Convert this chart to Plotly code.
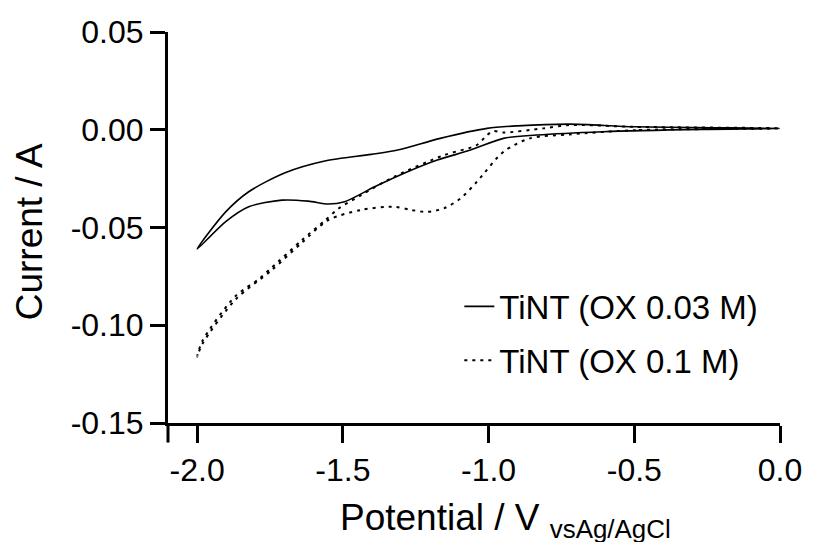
import plotly.graph_objects as go

# ---- data ----
# TiNT (OX 0.03 M): cathodic scan 0 -> -2.0 V, then return scan -2.0 -> 0 V
sol_fwd_x = [0.0, -0.267, -0.608, -0.835, -0.949, -1.062, -1.176, -1.278, -1.391,
             -1.494, -1.55, -1.619, -1.709, -1.823, -1.902, -2.0]
sol_fwd_y = [0.0007, 0.0002, -0.001, -0.0027, -0.0044, -0.0104, -0.0155, -0.0215, -0.0292,
             -0.0368, -0.038, -0.0365, -0.036, -0.0394, -0.047, -0.061]
sol_rev_x = [-2.0, -1.902, -1.823, -1.698, -1.562, -1.403, -1.312, -1.166, -1.005,
             -0.9, -0.723, -0.495, 0.0]
sol_rev_y = [-0.061, -0.042, -0.0317, -0.022, -0.016, -0.0126, -0.0104, -0.0044, 0.0007,
             0.002, 0.0029, 0.0015, 0.0007]

# TiNT (OX 0.1 M)
dot_fwd_x = [0.0, -0.495, -0.723, -0.858, -0.949, -1.04, -1.096, -1.153, -1.21, -1.267,
             -1.323, -1.437, -1.55, -1.641, -1.744, -1.868, -1.982, -2.0]
dot_fwd_y = [0.0007, -0.0002, -0.0024, -0.0044, -0.0113, -0.0266, -0.0351, -0.0402, -0.042, -0.041,
             -0.0394, -0.041, -0.0462, -0.0578, -0.0718, -0.0868, -0.1095, -0.116]
dot_rev_x = [-2.0, -1.982, -1.868, -1.789, -1.744, -1.641, -1.562, -1.516, -1.437, -1.323,
             -1.153, -1.04, -1.005, -0.983, -0.949, -0.812, -0.723, -0.5, 0.0]
dot_rev_y = [-0.116, -0.108, -0.085, -0.0765, -0.0705, -0.0565, -0.0465, -0.0405, -0.0334, -0.024,
             -0.013, -0.0078, -0.0027, -0.0007, -0.0014, 0.0007, 0.0024, 0.0015, 0.0007]

series_names = ["TiNT (OX 0.03 M)", "TiNT (OX 0.1 M)"]

x_tickvals = [-2.0, -1.5, -1.0, -0.5, 0.0]
x_ticktext = ["-2.0", "-1.5", "-1.0", "-0.5", "0.0"]
y_tickvals = [0.05, 0.0, -0.05, -0.10, -0.15]
y_ticktext = ["0.05", "0.00", "-0.05", "-0.10", "-0.15"]

FONT = "Liberation Sans, Arial, Helvetica, sans-serif"

fig = go.Figure()
fig.add_trace(go.Scatter(
    x=sol_fwd_x + sol_rev_x[1:], y=sol_fwd_y + sol_rev_y[1:],
    mode="lines", name=series_names[0], legendgroup="a",
    line=dict(color="black", width=1.6, shape="spline", smoothing=0.8),
))
fig.add_trace(go.Scatter(
    x=dot_fwd_x + dot_rev_x[1:], y=dot_fwd_y + dot_rev_y[1:],
    mode="lines", name=series_names[1], legendgroup="b",
    line=dict(color="black", width=2, dash="3px,5px", shape="spline", smoothing=0.8),
))

axis_common = dict(
    showline=True, linecolor="black", linewidth=3,
    ticks="outside", tickcolor="black", tickwidth=3,
    showgrid=False, zeroline=False,
    tickfont=dict(family=FONT, size=32, color="black"),
)

fig.update_layout(
    width=814, height=542,
    margin=dict(l=168, r=23, t=32, b=119),
    paper_bgcolor="white", plot_bgcolor="white",
    font=dict(family=FONT, color="black"),
    xaxis=dict(range=[-2.1, 0.0], tickvals=x_tickvals, ticktext=x_ticktext,
               ticklen=17, **axis_common),
    yaxis=dict(range=[-0.15, 0.05], tickvals=y_tickvals, ticktext=y_ticktext,
               ticklen=15, **axis_common),
    legend=dict(x=0.476, y=0.229, xanchor="left", yanchor="middle",
                bgcolor="rgba(0,0,0,0)", font=dict(family=FONT, size=33, color="black"),
                tracegroupgap=8, itemwidth=30),
    showlegend=True,
    annotations=[
        dict(text="Current / A", xref="paper", yref="paper",
             x=-0.2257, y=0.49, xanchor="center", yanchor="middle", textangle=-90,
             showarrow=False, font=dict(family=FONT, size=37, color="black")),
        dict(text="Potential / V <sub>vsAg/AgCl</sub>", xref="paper", yref="paper",
             x=0.277, y=-0.185, xanchor="left", yanchor="top",
             showarrow=False, font=dict(family=FONT, size=37, color="black")),
    ],
    shapes=[
        dict(type="line", xref="paper", yref="paper", x0=0, x1=0, y0=0, y1=-0.05,
             line=dict(color="black", width=3)),
    ],
)

fig.write_html(
    "out.html",
    config={"displayModeBar": False},
    post_script="document.body.style.margin='0';document.body.style.overflow='hidden';",
)
